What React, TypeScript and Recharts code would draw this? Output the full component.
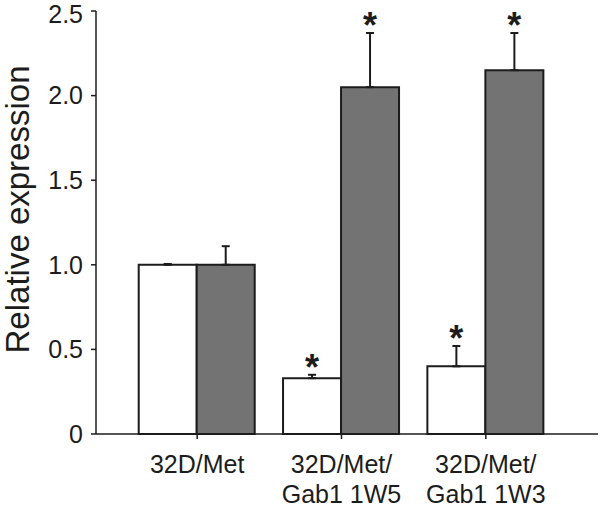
import React from 'react';
import { BarChart, Bar, XAxis, YAxis, ErrorBar, LabelList, Label } from 'recharts';

const categories = ['32D/Met', '32D/Met/|Gab1 1W5', '32D/Met/|Gab1 1W3'];
const whiteValues = [1.0, 0.33, 0.4];
const whiteErrors = [0.005, 0.02, 0.12];
const whiteStars = ['', '*', '*'];
const grayValues = [1.0, 2.05, 2.15];
const grayErrors = [0.11, 0.32, 0.22];
const grayStars = ['', '*', '*'];
const yTicks = [0, 0.5, 1, 1.5, 2, 2.5];
const yTickLabels = ['0', '0.5', '1.0', '1.5', '2.0', '2.5'];

const data = categories.map((name, i) => ({
  name,
  white: whiteValues[i],
  whiteErr: [0, whiteErrors[i]],
  whiteStar: whiteStars[i],
  gray: grayValues[i],
  grayErr: [0, grayErrors[i]],
  grayStar: grayStars[i],
}));

const FONT = '"Liberation Sans", Arial, Helvetica, sans-serif';
const INK = '#1c1c1c';

const XTick = (props: any) => {
  const { x, y, payload } = props;
  const lines = String(payload.value).split('|');
  return (
    <g>
      {lines.map((line, i) => (
        <text key={i} x={x} y={y + 32 + i * 30} textAnchor="middle" fontSize={25} fill={INK} fontFamily={FONT}>
          {line}
        </text>
      ))}
    </g>
  );
};

const makeStar = (values: number[], errors: number[]) => (props: any) => {
  const { x, y, width, height, value, index } = props;
  if (!value) return null;
  const pxPerUnit = height / values[index];
  const capY = y - errors[index] * pxPerUnit;
  return (
    <text x={x + width / 2} y={capY + 5} textAnchor="middle" fontSize={36} fontWeight="bold" fill={INK} fontFamily={FONT}>
      {value}
    </text>
  );
};

const App: React.FC = () => {
  return (
    <div style={{ position: 'absolute', left: 0, top: 0, background: '#fff' }}>
      <BarChart
        width={600}
        height={509}
        data={data}
        margin={{ top: 11, right: 2, left: 0, bottom: 0 }}
        barCategoryGap="9.5%"
        barGap={0}
      >
        <XAxis
          dataKey="name"
          padding={{ left: 29, right: 40 }}
          height={75}
          tickSize={5}
          tick={<XTick />}
          axisLine={{ stroke: INK, strokeWidth: 1.5 }}
          tickLine={{ stroke: INK, strokeWidth: 1.5 }}
        />
        <YAxis
          width={96}
          domain={[0, 2.5]}
          ticks={yTicks}
          tickFormatter={(v: number) => yTickLabels[yTicks.indexOf(v)]}
          tickSize={5}
          tickMargin={8}
          tick={{ fontSize: 25, fill: INK, fontFamily: FONT }}
          axisLine={{ stroke: INK, strokeWidth: 1.5 }}
          tickLine={{ stroke: INK, strokeWidth: 1.5 }}
        >
          <Label
            content={(p: any) => {
              const vb = p.viewBox;
              const cx = 17;
              const cy = vb.y + vb.height / 2 - 13;
              return (
                <text
                  x={cx}
                  y={cy}
                  transform={`rotate(-90, ${cx}, ${cy})`}
                  textAnchor="middle"
                  dominantBaseline="central"
                  fontSize={33}
                  fill={INK}
                  fontFamily={FONT}
                >
                  Relative expression
                </text>
              );
            }}
          />
        </YAxis>
        <Bar dataKey="white" fill="#ffffff" stroke={INK} strokeWidth={2} isAnimationActive={false}>
          <ErrorBar dataKey="whiteErr" width={4} stroke={INK} strokeWidth={2} />
          <LabelList dataKey="whiteStar" content={makeStar(whiteValues, whiteErrors)} />
        </Bar>
        <Bar dataKey="gray" fill="#737373" stroke={INK} strokeWidth={2} isAnimationActive={false}>
          <ErrorBar dataKey="grayErr" width={4} stroke={INK} strokeWidth={2} />
          <LabelList dataKey="grayStar" content={makeStar(grayValues, grayErrors)} />
        </Bar>
      </BarChart>
    </div>
  );
};

export default App;
